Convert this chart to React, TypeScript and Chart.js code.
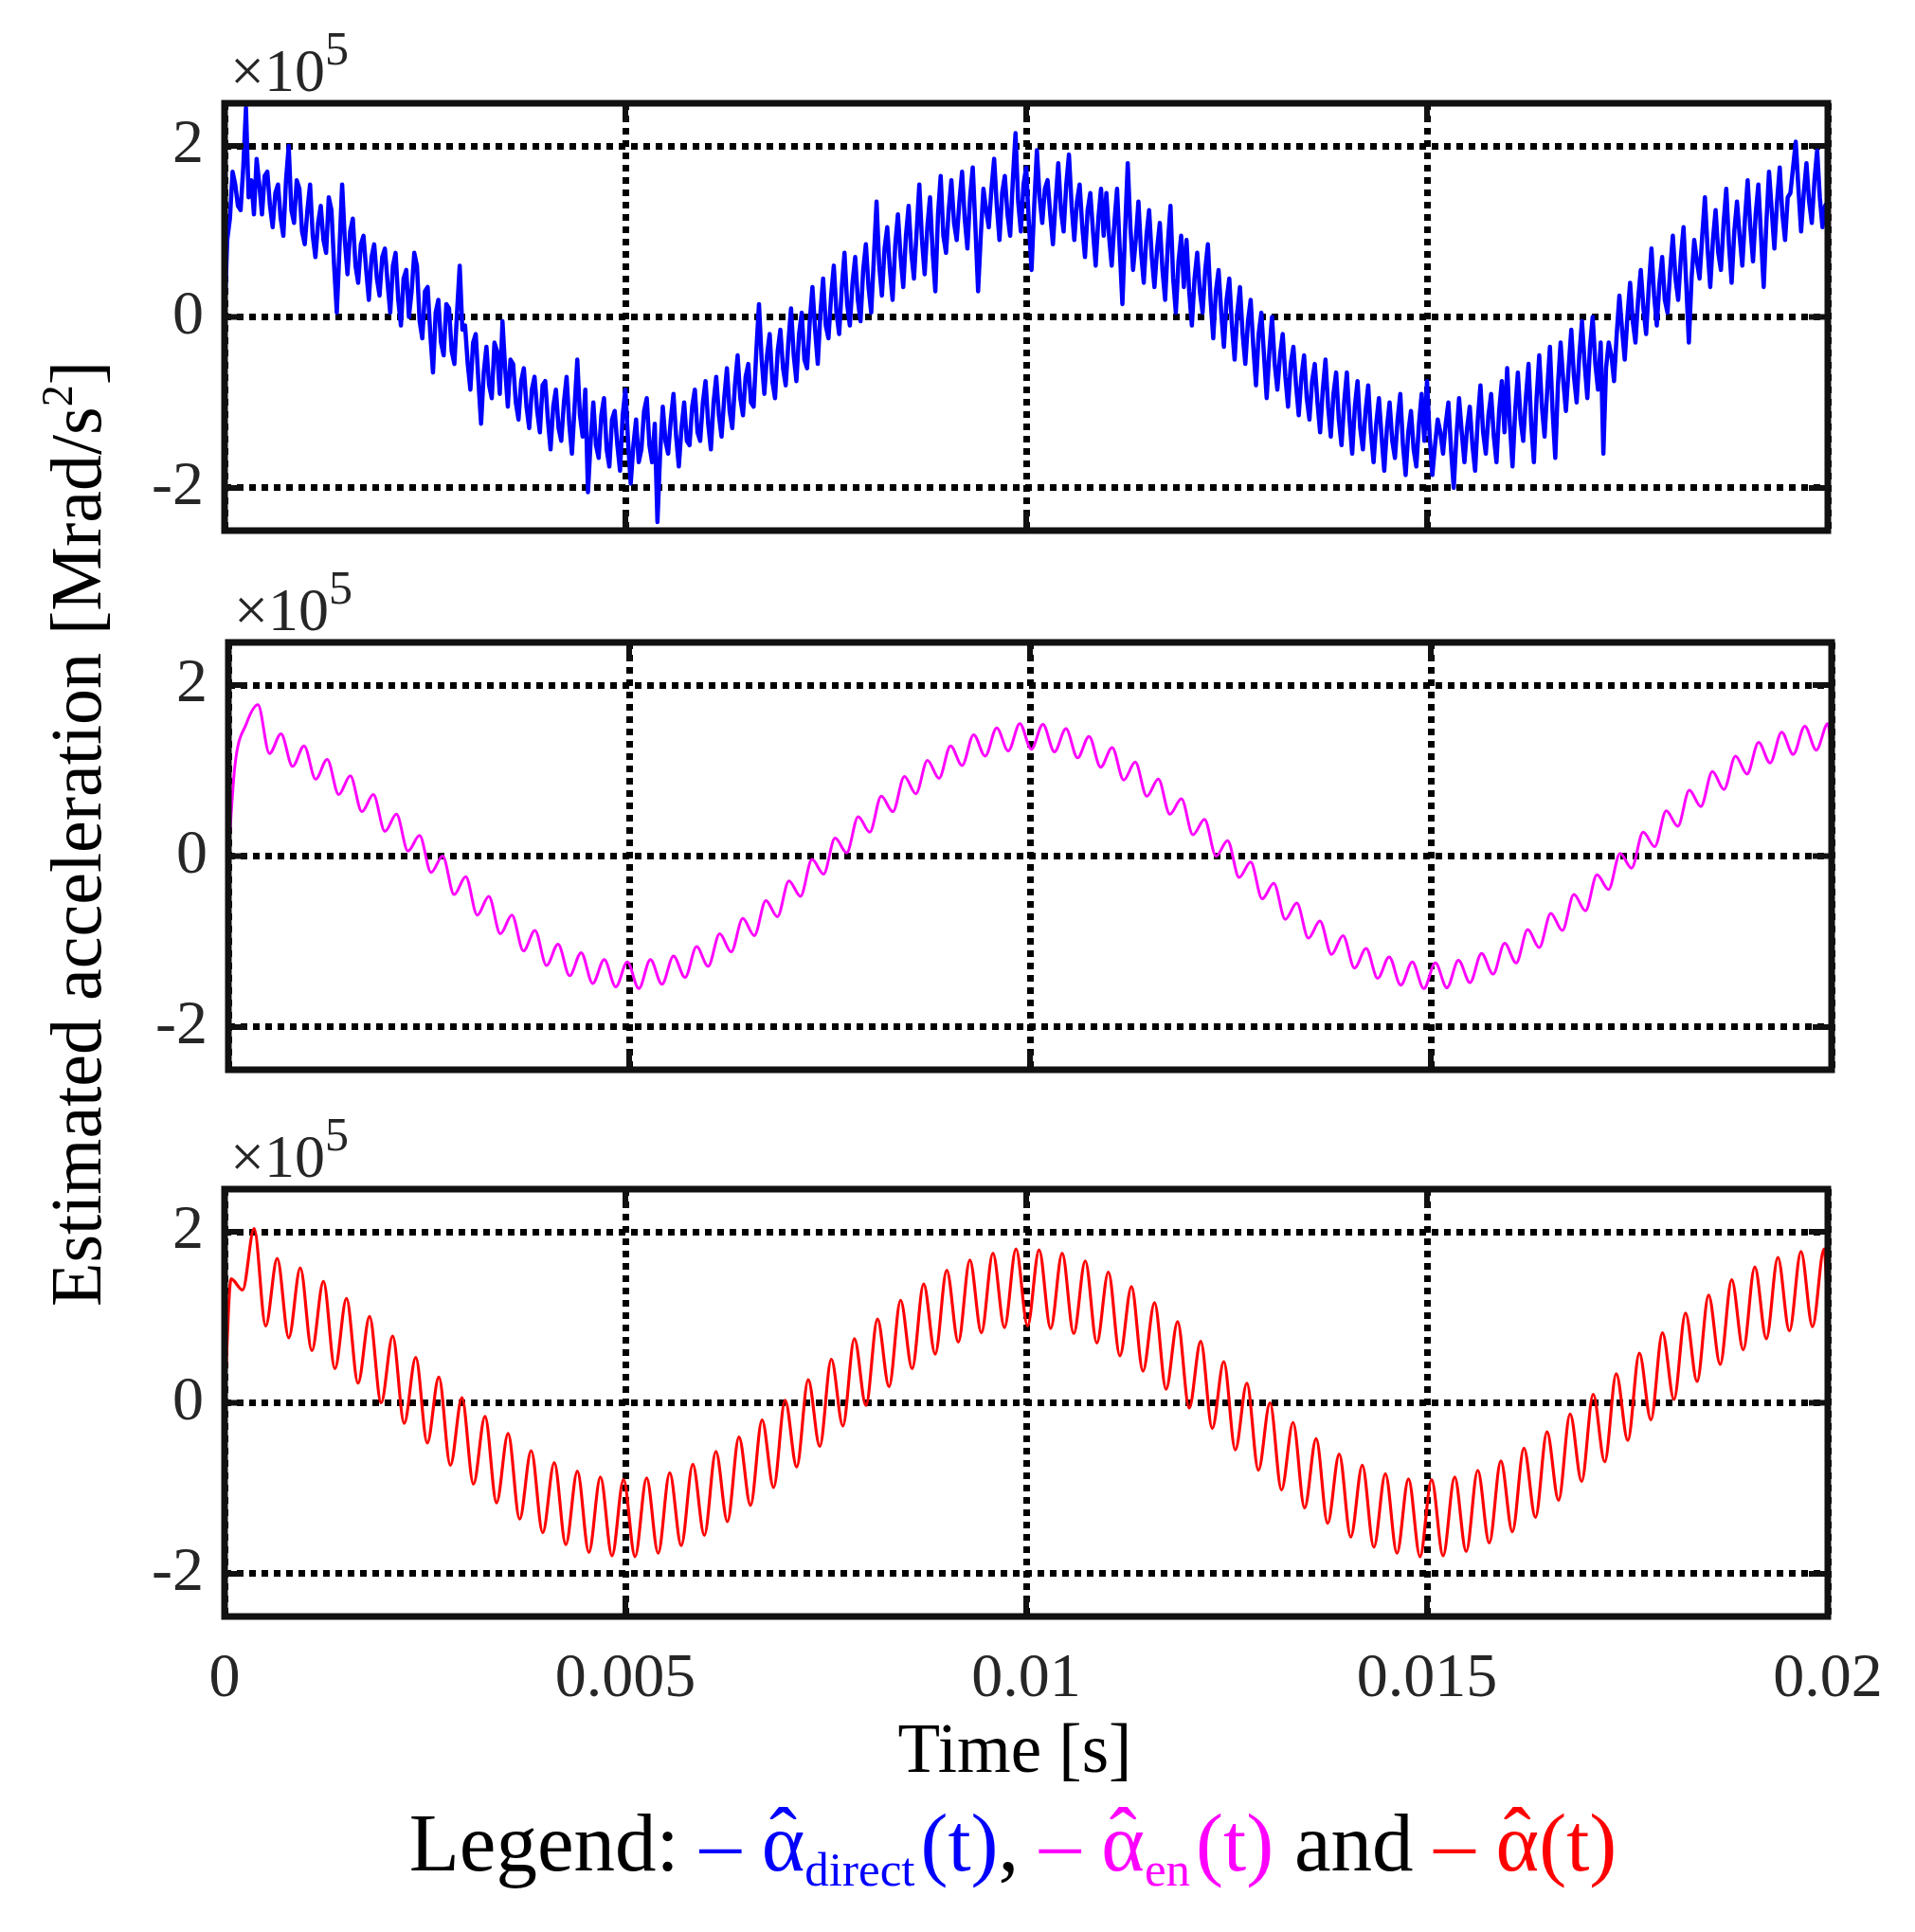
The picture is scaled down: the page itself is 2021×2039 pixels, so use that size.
import React, { useEffect, useRef } from 'react';
import { Chart, registerables } from 'chart.js';

Chart.register(...registerables);

// ---------- axes ----------
const X_MIN = 0;
const X_MAX = 0.02;
const X_TICKS = [0, 0.005, 0.01, 0.015, 0.02];
const X_TICK_LABELS = ['0', '0.005', '0.01', '0.015', '0.02'];
const Y_MIN = -2.5;
const Y_MAX = 2.5;
const Y_TICKS = [-2, 0, 2];
const Y_TICK_LABELS = ['-2', '0', '2'];

// ---------- direct estimate (blue), sampled every 0.02/600 s (x10^5) ----------
const DIRECT_SAMPLES = 601;
const DIRECT_VALUES = [
  0.00, 0.90, 1.15, 1.70, 1.55, 1.30, 1.25, 1.75, 2.45, 1.40, 1.60, 1.20, 1.85, 1.55, 1.20, 1.65, 1.70, 1.30, 1.05, 1.45, 1.55, 1.15, 0.95, 1.60, 2.00, 1.25, 1.10, 1.60, 1.50, 1.00,
  0.85, 1.25, 1.55, 0.95, 0.70, 1.10, 1.30, 0.90, 0.75, 1.40, 1.25, 0.60, 0.05, 0.80, 1.55, 0.90, 0.50, 1.00, 1.15, 0.60, 0.40, 0.85, 0.95, 0.55, 0.20, 0.70, 0.85, 0.45, 0.25, 0.70,
  0.80, 0.40, 0.05, 0.60, 0.75, 0.20, -0.10, 0.45, 0.55, 0.00, 0.30, 0.75, 0.60, -0.05, -0.25, 0.30, 0.35, -0.20, -0.65, 0.05, 0.20, -0.30, -0.45, 0.15, 0.10, -0.40, -0.55, 0.05, 0.60, -0.15,
  -0.10, -0.55, -0.85, -0.30, -0.20, -0.75, -1.25, -0.65, -0.35, -0.80, -0.95, -0.30, -0.40, -0.90, -0.05, -0.60, -1.05, -0.50, -0.55, -1.00, -1.20, -0.75, -0.60, -1.05, -1.30, -0.85, -0.70, -1.10, -1.35, -0.80,
  -0.75, -1.20, -1.55, -1.05, -0.85, -1.30, -1.45, -1.00, -0.70, -1.25, -1.60, -1.05, -0.50, -1.15, -1.40, -0.85, -2.05, -1.45, -1.00, -1.50, -1.65, -1.15, -0.95, -1.55, -1.75, -1.20, -1.10, -1.50, -1.80, -1.15,
  -0.85, -1.45, -1.95, -1.50, -1.20, -1.70, -1.55, -1.10, -0.95, -1.50, -1.70, -1.25, -2.40, -1.60, -1.05, -1.45, -1.60, -1.20, -0.90, -1.40, -1.75, -1.30, -1.00, -1.45, -1.50, -1.05, -0.85, -1.35, -1.45, -1.00,
  -0.75, -1.25, -1.55, -1.00, -0.70, -1.15, -1.40, -0.95, -0.60, -1.10, -1.30, -0.80, -0.45, -0.95, -1.15, -0.70, -0.55, -1.00, -1.05, -0.40, 0.15, -0.50, -0.90, -0.45, -0.20, -0.75, -0.95, -0.40, -0.15, -0.60,
  -0.80, -0.30, 0.10, -0.45, -0.75, -0.20, 0.05, -0.50, -0.60, -0.05, 0.35, -0.15, -0.55, 0.05, 0.45, -0.10, -0.25, 0.25, 0.60, 0.05, -0.20, 0.35, 0.75, 0.15, -0.10, 0.40, 0.70, 0.20, -0.05, 0.55,
  0.85, 0.35, 0.05, 0.70, 1.35, 0.60, 0.25, 0.80, 1.05, 0.55, 0.20, 0.85, 1.20, 0.70, 0.35, 0.95, 1.30, 0.75, 0.45, 1.00, 1.55, 0.90, 0.50, 1.05, 1.40, 0.75, 0.30, 1.20, 1.65, 0.95,
  0.75, 1.25, 1.60, 1.10, 0.90, 1.35, 1.70, 1.15, 0.80, 1.40, 1.75, 1.05, 0.30, 0.95, 1.50, 1.25, 1.05, 1.50, 1.85, 1.30, 0.90, 1.45, 1.65, 1.20, 0.95, 1.60, 2.15, 1.35, 1.00, 1.55,
  1.75, 1.10, 0.55, 1.30, 1.95, 1.40, 1.10, 1.50, 1.60, 1.20, 0.85, 1.35, 1.80, 1.25, 1.00, 1.55, 1.90, 1.30, 0.90, 1.35, 1.55, 1.05, 0.70, 1.25, 1.45, 1.00, 0.60, 1.15, 1.50, 0.95,
  1.45, 0.95, 0.60, 1.10, 1.50, 0.80, 0.15, 1.00, 1.80, 1.05, 0.55, 0.90, 1.35, 0.75, 0.40, 0.95, 1.25, 0.70, 0.35, 0.80, 1.10, 0.55, 0.20, 0.85, 1.30, 0.45, 0.05, 0.65, 0.95, 0.35,
  0.90, 0.30, -0.10, 0.45, 0.75, 0.30, 0.05, 0.55, 0.85, 0.20, -0.25, 0.30, 0.55, 0.05, -0.35, 0.20, 0.45, -0.10, -0.50, 0.05, 0.35, -0.20, -0.55, -0.05, 0.20, -0.35, -0.80, -0.20, 0.05, -0.45,
  -0.95, -0.40, 0.00, -0.55, -0.85, -0.45, -0.20, -0.70, -1.05, -0.55, -0.35, -0.80, -1.15, -0.70, -0.45, -0.95, -1.20, -0.75, -0.55, -1.00, -1.35, -0.85, -0.50, -1.05, -1.40, -0.90, -0.65, -1.20, -1.50, -1.00,
  -0.65, -1.20, -1.60, -1.05, -0.75, -1.30, -1.55, -1.10, -0.80, -1.35, -1.70, -1.25, -0.95, -1.40, -1.80, -1.30, -1.00, -1.45, -1.65, -1.20, -0.90, -1.50, -1.85, -1.35, -1.10, -1.55, -1.75, -1.25, -0.90, -1.45,
  -0.75, -1.40, -1.85, -1.50, -1.20, -1.35, -1.60, -1.25, -1.00, -1.55, -2.00, -1.40, -0.95, -1.35, -1.70, -1.30, -1.05, -1.50, -1.80, -1.20, -0.80, -1.35, -1.60, -1.15, -0.90, -1.40, -1.70, -1.10, -0.75, -1.35,
  -0.60, -1.25, -1.75, -1.10, -0.65, -1.20, -1.45, -0.95, -0.55, -1.25, -1.70, -0.95, -0.45, -1.05, -1.40, -0.85, -0.35, -1.10, -1.65, -0.80, -0.30, -0.75, -1.10, -0.60, -0.15, -0.70, -1.00, -0.45, -0.05, -0.55,
  -0.95, -0.35, 0.00, -0.55, -0.85, -0.30, -1.60, -0.60, -0.30, -0.45, -0.75, -0.20, 0.25, -0.15, -0.50, 0.00, 0.40, -0.05, -0.30, 0.20, 0.55, 0.10, -0.20, 0.35, 0.80, 0.25, -0.10, 0.40, 0.70, 0.20,
  0.05, 0.55, 0.95, 0.45, 0.20, 0.70, 1.05, 0.40, -0.30, 0.45, 0.90, 0.65, 0.45, 0.95, 1.40, 0.80, 0.35, 0.90, 1.25, 0.75, 0.55, 1.10, 1.50, 0.85, 0.40, 1.00, 1.35, 0.95, 0.60, 1.15,
  1.60, 1.05, 0.65, 1.20, 1.55, 0.95, 0.35, 1.10, 1.70, 1.25, 0.80, 1.35, 1.75, 1.20, 0.90, 1.40, 1.45, 1.75, 2.05, 1.50, 1.00, 1.45, 1.80, 1.35, 1.10, 1.60, 1.95, 1.40, 1.05, 1.30,
  1.35,
];
const DIRECT_TIMES = Array.from({ length: DIRECT_SAMPLES }, (_, i) => (X_MAX * i) / (DIRECT_SAMPLES - 1));

// ---------- ripple extrema times (t = 0, then alternating peaks/troughs, then t = 0.02) ----------
const RIPPLE_FIRST = 0.000081;
const RIPPLE_HALF_PERIOD = 0.000144;
const RIPPLE_COUNT = 139;
const RIPPLE_TIMES = [
  0,
  ...Array.from({ length: RIPPLE_COUNT }, (_, i) => RIPPLE_FIRST + i * RIPPLE_HALF_PERIOD),
  0.02,
];

// ---------- energy-based estimate (magenta, x10^5) ----------
const EN_VALUES = [
  0,
  1.05, 1.55, 1.77, 1.20, 1.43, 1.05, 1.29, 0.90, 1.13, 0.72,
  0.94, 0.52, 0.72, 0.29, 0.49, 0.06, 0.24, -0.19, 0.00, -0.45,
  -0.24, -0.69, -0.47, -0.91, -0.69, -1.11, -0.87, -1.28, -1.03, -1.40,
  -1.13, -1.49, -1.21, -1.53, -1.24, -1.55, -1.21, -1.50, -1.17, -1.42,
  -1.06, -1.29, -0.91, -1.12, -0.73, -0.93, -0.52, -0.71, -0.29, -0.47,
  -0.04, -0.21, 0.21, 0.04, 0.46, 0.28, 0.70, 0.52, 0.93, 0.73,
  1.12, 0.91, 1.29, 1.06, 1.42, 1.17, 1.50, 1.23, 1.55, 1.25,
  1.54, 1.22, 1.49, 1.15, 1.40, 1.04, 1.27, 0.89, 1.10, 0.70,
  0.90, 0.49, 0.67, 0.25, 0.43, 0.00, 0.18, -0.25, -0.07, -0.50,
  -0.32, -0.74, -0.55, -0.96, -0.76, -1.15, -0.93, -1.31, -1.08, -1.43,
  -1.18, -1.51, -1.24, -1.55, -1.25, -1.54, -1.22, -1.48, -1.14, -1.38,
  -1.02, -1.25, -0.86, -1.07, -0.67, -0.87, -0.45, -0.64, -0.22, -0.39,
  0.03, -0.14, 0.28, 0.11, 0.53, 0.35, 0.77, 0.58, 0.99, 0.78,
  1.17, 0.96, 1.33, 1.09, 1.45, 1.19, 1.52, 1.24, 1.55,
  1.22,
];

// ---------- final estimate (red, x10^5) ----------
const FINAL_VALUES = [
  0,
  1.45, 1.32, 2.04, 0.90, 1.69, 0.76, 1.58, 0.61, 1.42, 0.40,
  1.22, 0.23, 1.01, 0.00, 0.78, -0.24, 0.53, -0.47, 0.30, -0.73,
  0.06, -0.95, -0.16, -1.17, -0.36, -1.36, -0.56, -1.52, -0.70, -1.66,
  -0.80, -1.75, -0.87, -1.79, -0.90, -1.80, -0.88, -1.76, -0.82, -1.67,
  -0.72, -1.55, -0.57, -1.39, -0.40, -1.20, -0.20, -0.99, 0.03, -0.75,
  0.27, -0.51, 0.51, -0.27, 0.75, -0.03, 0.98, 0.19, 1.20, 0.40,
  1.39, 0.57, 1.55, 0.71, 1.67, 0.82, 1.75, 0.88, 1.80, 0.90,
  1.79, 0.87, 1.75, 0.81, 1.66, 0.70, 1.53, 0.55, 1.36, 0.37,
  1.17, 0.16, 0.95, -0.06, 0.72, -0.30, 0.48, -0.55, 0.23, -0.79,
  0.00, -1.02, -0.23, -1.23, -0.42, -1.41, -0.60, -1.57, -0.73, -1.69,
  -0.83, -1.76, -0.89, -1.80, -0.90, -1.79, -0.87, -1.74, -0.79, -1.64,
  -0.68, -1.51, -0.53, -1.34, -0.34, -1.14, -0.13, -0.92, 0.10, -0.69,
  0.34, -0.44, 0.58, -0.20, 0.82, 0.04, 1.05, 0.25, 1.26, 0.45,
  1.44, 0.62, 1.59, 0.75, 1.70, 0.84, 1.77, 0.89, 1.80,
  1.10,
];

const SERIF = '"Liberation Serif", "Times New Roman", Times, serif';
const TICK_COLOR = '#262626';

type PanelSpec = {
  canvasTop: number;
  canvasHeight: number;
  areaLeft: number;
  areaRight: number;
  padTop: number;
  padBottom: number;
  xAxisHeight: number;
  showXLabels: boolean;
  times: number[];
  values: number[];
  color: string;
  lineWidth: number;
  smooth: boolean;
};

const PANELS: PanelSpec[] = [
  {
    canvasTop: 95, canvasHeight: 477, areaLeft: 237, areaRight: 1929,
    padTop: 14, padBottom: 12, xAxisHeight: 0, showXLabels: false,
    times: DIRECT_TIMES, values: DIRECT_VALUES, color: '#0000ff', lineWidth: 4.5, smooth: false,
  },
  {
    canvasTop: 664, canvasHeight: 477, areaLeft: 241, areaRight: 1933,
    padTop: 14, padBottom: 12, xAxisHeight: 0, showXLabels: false,
    times: RIPPLE_TIMES, values: EN_VALUES, color: '#ff00ff', lineWidth: 3, smooth: true,
  },
  {
    canvasTop: 1241, canvasHeight: 577, areaLeft: 237, areaRight: 1929,
    padTop: 14, padBottom: 0, xAxisHeight: 112, showXLabels: true,
    times: RIPPLE_TIMES, values: FINAL_VALUES, color: '#ff0000', lineWidth: 3.2, smooth: true,
  },
];

const TICK_LEN = 20;

const frameAndTicks = {
  id: 'frameAndTicks',
  afterDraw(chart: any) {
    const { ctx, chartArea: a, scales } = chart;
    ctx.save();
    ctx.strokeStyle = '#111';
    ctx.lineWidth = 6;
    ctx.setLineDash([]);
    ctx.beginPath();
    X_TICKS.forEach((v) => {
      const px = scales.x.getPixelForValue(v);
      ctx.moveTo(px, a.bottom);
      ctx.lineTo(px, a.bottom - TICK_LEN);
      ctx.moveTo(px, a.top);
      ctx.lineTo(px, a.top + TICK_LEN);
    });
    Y_TICKS.forEach((v) => {
      const py = scales.y.getPixelForValue(v);
      ctx.moveTo(a.left, py);
      ctx.lineTo(a.left + TICK_LEN, py);
      ctx.moveTo(a.right, py);
      ctx.lineTo(a.right - TICK_LEN, py);
    });
    ctx.stroke();
    ctx.lineWidth = 7;
    ctx.strokeRect(a.left, a.top, a.right - a.left, a.bottom - a.top);
    ctx.restore();
  },
};

function zeroPadding(s: any) {
  s.paddingTop = 0;
  s.paddingBottom = 0;
  s.paddingLeft = 0;
  s.paddingRight = 0;
}

function buildConfig(p: PanelSpec): any {
  return {
    type: 'line',
    data: {
      datasets: [
        {
          data: p.times.map((t, i) => ({ x: t, y: p.values[i] })),
          borderColor: p.color,
          borderWidth: p.lineWidth,
          pointRadius: 0,
          fill: false,
          tension: 0,
          borderJoinStyle: 'round',
          cubicInterpolationMode: p.smooth ? 'monotone' : 'default',
        },
      ],
    },
    options: {
      responsive: false,
      animation: false,
      devicePixelRatio: 1,
      events: [],
      layout: { padding: { left: 0, right: 2021 - p.areaRight, top: p.padTop, bottom: p.padBottom } },
      plugins: { legend: { display: false }, tooltip: { enabled: false }, title: { display: false } },
      scales: {
        x: {
          type: 'linear',
          min: X_MIN,
          max: X_MAX,
          afterBuildTicks: (s: any) => { s.ticks = X_TICKS.map((v) => ({ value: v })); },
          afterFit: (s: any) => { s.height = p.xAxisHeight; zeroPadding(s); },
          ticks: {
            display: p.showXLabels,
            autoSkip: false,
            maxRotation: 0,
            minRotation: 0,
            padding: 27,
            color: TICK_COLOR,
            font: { family: SERIF, size: 66 },
            callback: (_v: any, i: number) => X_TICK_LABELS[i],
          },
          grid: { color: '#000', lineWidth: 7, drawTicks: false },
          border: { display: false, dash: [7, 6] },
        },
        y: {
          type: 'linear',
          min: Y_MIN,
          max: Y_MAX,
          afterBuildTicks: (s: any) => { s.ticks = Y_TICKS.map((v) => ({ value: v })); },
          afterFit: (s: any) => { s.width = p.areaLeft; zeroPadding(s); },
          ticks: {
            autoSkip: false,
            padding: 22,
            color: TICK_COLOR,
            font: { family: SERIF, size: 66 },
            callback: (_v: any, i: number) => Y_TICK_LABELS[i],
          },
          grid: { color: '#000', lineWidth: 7, drawTicks: false },
          border: { display: false, dash: [7, 6] },
        },
      },
    },
    plugins: [frameAndTicks],
  };
}

function Exponent({ left, top }: { left: number; top: number }) {
  return (
    <div
      style={{
        position: 'absolute', left, top, fontFamily: SERIF, fontSize: 64, lineHeight: '64px',
        color: TICK_COLOR, whiteSpace: 'nowrap',
      }}
    >
      ×10<span style={{ fontSize: 50, position: 'relative', top: -28 }}>5</span>
    </div>
  );
}

function Hat({ children }: { children: React.ReactNode }) {
  return (
    <span style={{ position: 'relative', display: 'inline-block' }}>
      {children}
      <span style={{ position: 'absolute', left: 0, right: 0, top: -6, textAlign: 'center' }}>ˆ</span>
    </span>
  );
}

export default function App() {
  const refs = [useRef<HTMLCanvasElement>(null), useRef<HTMLCanvasElement>(null), useRef<HTMLCanvasElement>(null)];

  useEffect(() => {
    const charts = PANELS.map((p, i) => new Chart(refs[i].current as HTMLCanvasElement, buildConfig(p)));
    return () => charts.forEach((c) => c.destroy());
  }, []);

  const sub = { fontSize: 51, position: 'relative', top: 16, marginRight: 6 } as React.CSSProperties;

  return (
    <div style={{ position: 'absolute', left: 0, top: 0, width: 2021, height: 2039, background: '#fff', overflow: 'hidden' }}>
      {PANELS.map((p, i) => (
        <canvas
          key={i}
          ref={refs[i]}
          width={2021}
          height={p.canvasHeight}
          style={{ position: 'absolute', left: 0, top: p.canvasTop, width: 2021, height: p.canvasHeight }}
        />
      ))}
      <Exponent left={243} top={43} />
      <Exponent left={247} top={612} />
      <Exponent left={243} top={1189} />

      <div
        style={{
          position: 'absolute', left: 80 - 700, top: 880 - 38, width: 1400, height: 76,
          lineHeight: '76px', fontSize: 76, fontFamily: SERIF, color: '#000', textAlign: 'center',
          whiteSpace: 'nowrap', transform: 'rotate(-90deg)', transformOrigin: '50% 50%',
        }}
      >
        Estimated acceleration [Mrad/s<span style={{ fontSize: 46, position: 'relative', top: -30 }}>2</span>]
      </div>

      <div
        style={{
          position: 'absolute', left: 1071 - 500, top: 1809, width: 1000, textAlign: 'center',
          fontSize: 73, lineHeight: '73px', fontFamily: SERIF, color: '#000', whiteSpace: 'nowrap',
        }}
      >
        Time [s]
      </div>

      <div
        style={{
          position: 'absolute', left: 1069 - 1000, top: 1901, width: 2000, textAlign: 'center',
          fontSize: 87, lineHeight: '87px', fontFamily: SERIF, color: '#000', whiteSpace: 'nowrap',
        }}
      >
        Legend:{' '}
        <span style={{ color: '#0000ff' }}>– <Hat>α</Hat><span style={sub}>direct</span>(t)</span>,{' '}
        <span style={{ color: '#ff00ff' }}>– <Hat>α</Hat><span style={sub}>en</span>(t)</span> and{' '}
        <span style={{ color: '#ff0000' }}>– <Hat>α</Hat>(t)</span>
      </div>
    </div>
  );
}
